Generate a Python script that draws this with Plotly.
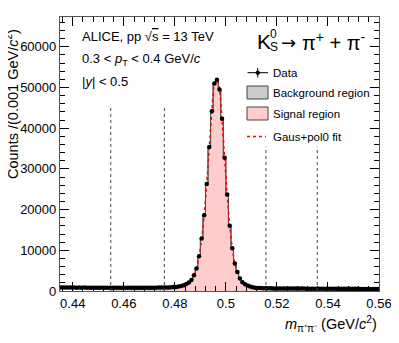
import numpy as np
import plotly.graph_objects as go

# histogram binning (GeV/c^2)
hist_lo = 0.435
bin_width = 0.001

counts = [
    848,
    845, 838, 842, 830, 836, 828, 833, 825, 829, 820,
    824, 816, 819, 812, 815, 808, 811, 804, 807, 800,
    803, 797, 799, 793, 796, 790, 794, 789, 793, 790,
    795, 792, 798, 801, 806, 812, 821, 830, 846, 862,
    870, 890, 920, 960, 1010, 1080, 1250, 1400, 1740, 2060,
    2730, 3860, 5500, 8530, 12870, 18600, 26300, 35400, 44150, 50960,
    51900, 49480, 42290, 32700, 23700, 16000, 10500, 6730, 4650, 3100,
    2150, 1650, 1330, 1080, 910, 820, 760, 720, 690, 670,
    655, 648, 640, 636, 629, 624, 620, 613, 610, 604,
    600, 596, 591, 588, 584, 580, 577, 573, 570, 566,
    563, 560, 557, 553, 551, 548, 545, 542, 540, 537,
    535, 532, 530, 527, 525, 522, 520, 518, 516, 513, 511, 509, 507, 505,
]

# sideband / signal boundaries and heights of the marker lines
region_edges = [0.4549, 0.4759, 0.5157, 0.5358]
edge_line_tops = [45400, 45400, 35500, 35500]

x_range = [0.435, 0.56]
y_range = [0, 67300]

counts = np.array(counts, dtype=float)
n = len(counts)
lows = hist_lo + bin_width * np.arange(n)
centers = lows + bin_width / 2

FONT = "Liberation Sans, Arial, sans-serif"
PINK = "#ffcccc"
GREY = "#cccccc"

# page offset of the plotly div (body margin) and frame in window pixels
OFF = 8
W, H = 399, 343
L, R, T, B = 60, 379, 17, 291


def px(x):
    return (x - L) / (R - L)


def py(y):
    return (B - y) / (B - T)


def step_xy(mask):
    xs, ys = [], []
    for lo, c in zip(lows[mask], counts[mask]):
        xs += [lo, lo + bin_width]
        ys += [c, c]
    return xs, ys


def text_at(x, y, text, size, anchor="left", family=FONT, **kw):
    fig.add_annotation(x=px(x), y=py(y), xref="paper", yref="paper", text=text,
                       showarrow=False, xanchor=anchor, yanchor="middle",
                       font=dict(size=size, family=family, color="black"), **kw)


fig = go.Figure()

sig_mask = (centers > region_edges[1]) & (centers < region_edges[2])

for mask, color in [
    ((centers > region_edges[0]) & (centers < region_edges[1]), GREY),
    ((centers > region_edges[2]) & (centers < region_edges[3]), GREY),
    (sig_mask, PINK),
]:
    xs, ys = step_xy(mask)
    fig.add_scatter(
        x=xs, y=ys, mode="lines", fill="tozeroy", fillcolor=color,
        line=dict(color="#555555", width=1), hoverinfo="skip",
    )

xs, ys = step_xy(np.ones(n, dtype=bool))
fig.add_scatter(x=xs, y=ys, mode="lines", line=dict(color="#555555", width=1))

# Gaus+pol0 fit curve
fig.add_scatter(
    x=centers, y=counts, mode="lines",
    line=dict(color="red", width=1.5, dash="dot", shape="spline", smoothing=0.6),
)

# data points
fig.add_scatter(
    x=centers, y=counts, mode="markers",
    marker=dict(color="black", size=4.5, symbol="circle"),
    error_x=dict(type="constant", value=bin_width / 2, width=0, thickness=1, color="black"),
)

for xe, top in zip(region_edges, edge_line_tops):
    fig.add_shape(
        type="line", x0=xe, x1=xe, y0=0, y1=top, xref="x", yref="y",
        line=dict(color="#444444", width=1, dash="dot"),
    )

# legend drawn by hand
fig.add_shape(type="line", xref="paper", yref="paper", x0=px(247.5), x1=px(268),
              y0=py(72.7), y1=py(72.7), line=dict(color="black", width=1))
fig.add_shape(type="line", xref="paper", yref="paper", x0=px(257.7), x1=px(257.7),
              y0=py(68), y1=py(77.5), line=dict(color="black", width=1))
fig.add_shape(type="circle", xref="paper", yref="paper", x0=px(256), x1=px(259.5),
              y0=py(71), y1=py(74.5), fillcolor="black", line=dict(color="black", width=1))
fig.add_shape(type="rect", xref="paper", yref="paper", x0=px(247), x1=px(268),
              y0=py(86), y1=py(99), fillcolor=GREY, line=dict(color="#444444", width=1))
fig.add_shape(type="rect", xref="paper", yref="paper", x0=px(247), x1=px(268),
              y0=py(107), y1=py(120), fillcolor=PINK, line=dict(color="#444444", width=1))
fig.add_shape(type="line", xref="paper", yref="paper", x0=px(247), x1=px(266),
              y0=py(136.5), y1=py(136.5), line=dict(color="red", width=1.5, dash="dot"))

text_at(270.5, 72.7, "Data", 11.5)
text_at(270.5, 92.7, "Background region", 11.5)
text_at(270.5, 113.5, "Signal region", 11.5)
text_at(270.5, 136.5, "Gaus+pol0 fit", 11.5)

text_at(80, 36.7, "ALICE, pp √<span style='text-decoration:overline'>s</span> = 13 TeV", 13)
text_at(80, 60, "0.3 < <i>p</i><sub>T</sub> < 0.4 GeV/<i>c</i>", 13)
text_at(80, 81, "|<i>y</i>| < 0.5", 13)

# K0s -> pi+ pi- header
text_at(255, 41.5, "K", 21)
text_at(268, 34, "0", 12)
text_at(268, 47, "S", 12)
text_at(288, 42, "→", 18, anchor="center", family="DejaVu Sans")
text_at(299.5, 41.5, "π<sup>+</sup> + π<sup>-</sup>", 20)

# axis titles
text_at(379, 324, "<i>m</i><sub>π⁺π⁻</sub> (GeV/<i>c</i><sup>2</sup>)", 14.5, anchor="right")
text_at(12, 104, "Counts /(0.001 GeV/<i>c</i><sup>2</sup>)", 14.5, anchor="center",
        textangle=-90)

axis_style = dict(
    showgrid=False, zeroline=False, showline=True, linecolor="#555555", linewidth=1.2,
    mirror="allticks", ticks="inside", tickcolor="black", ticklen=9, tickwidth=1,
    tickfont=dict(size=13, family=FONT, color="black"),
)
fig.update_xaxes(
    range=x_range, tick0=0.44, dtick=0.02, **axis_style,
    minor=dict(dtick=0.004, tick0=0.44, ticks="inside", ticklen=4.5, tickcolor="black"),
)
fig.update_yaxes(
    range=y_range, tick0=0, dtick=10000, tickformat="d", **axis_style,
    minor=dict(dtick=2000, ticks="inside", ticklen=4.5, tickcolor="black"),
)

fig.update_layout(
    width=W - OFF, height=H - OFF,
    margin=dict(l=L - OFF, r=W - R, t=T - OFF, b=H - B, autoexpand=False),
    paper_bgcolor="white", plot_bgcolor="white",
    showlegend=False,
    font=dict(family=FONT, color="black"),
)

fig.write_html("out.html")
